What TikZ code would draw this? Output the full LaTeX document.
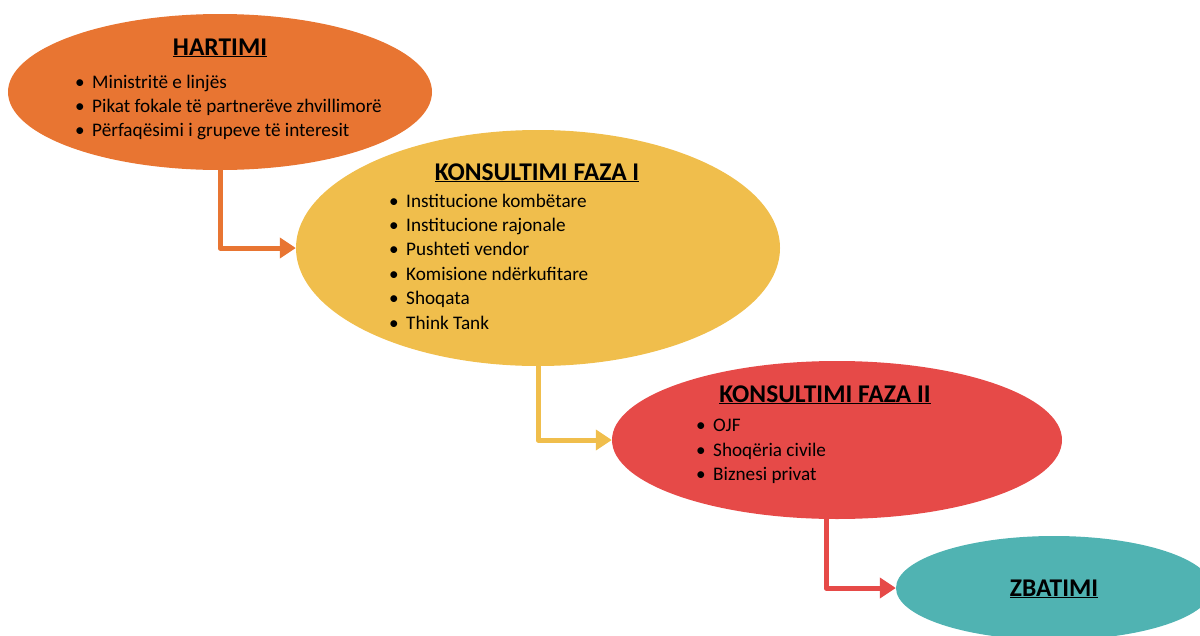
\documentclass[tikz,border=0pt]{standalone}
\usepackage{fontspec}
\setmainfont{Carlito}
\usetikzlibrary{shapes.geometric,arrows.meta}
\definecolor{cOr}{RGB}{232,117,50}
\definecolor{cYe}{RGB}{240,190,76}
\definecolor{cRe}{RGB}{230,74,72}
\definecolor{cTe}{RGB}{80,179,178}
\newcommand{\bul}[1]{\makebox[17pt][l]{\textbullet}#1}
\begin{document}
\begin{tikzpicture}[x=1pt,y=-1pt,
  blob/.style={ellipse,inner sep=0pt,draw=none},
  ttl/.style={anchor=base,inner sep=0pt,font=\fontsize{25.5}{30}\selectfont\bfseries},
  itm/.style={anchor=base west,inner sep=0pt,font=\fontsize{19.2}{23}\selectfont},
  conn/.style={line width=5pt,line join=round,-{Triangle[length=16pt,width=20pt]}}]
\useasboundingbox (0,0) rectangle (1200,635);
% ellipses
\node[blob,fill=cOr,minimum width=424pt,minimum height=156pt] (h) at (220,92) {};
\node[blob,fill=cYe,minimum width=484pt,minimum height=236pt] (k1) at (538,248) {};
\node[blob,fill=cRe,minimum width=450pt,minimum height=158pt] (k2) at (837,440) {};
\node[blob,fill=cTe,minimum width=316pt,minimum height=104pt] (z) at (1054,588) {};
% connectors
\draw[conn,cOr] (h.south) |- (k1.west);
\draw[conn,cYe] (k1.south) |- (k2.west);
\draw[conn,cRe] ([xshift=-11pt]k2.south) |- (z.west);
% HARTIMI
\node[ttl] (ht) at (220,55) {\underline{HARTIMI}};
\node[itm] (h1) at (75,88) {\bul{Ministritë e linjës}};
\node[itm] (h2) at (75,112) {\bul{Pikat fokale të partnerëve zhvillimorë}};
\node[itm] (h3) at (75,136) {\bul{Përfaqësimi i grupeve të interesit}};
% KONSULTIMI FAZA I
\node[ttl] (k1t) at (537,180) {\underline{KONSULTIMI FAZA I}};
\node[itm] (a1) at (389,207) {\bul{Institucione kombëtare}};
\node[itm] (a2) at (389,231.4) {\bul{Institucione rajonale}};
\node[itm] (a3) at (389,255.8) {\bul{Pushteti vendor}};
\node[itm] (a4) at (389,280.2) {\bul{Komisione ndërkufitare}};
\node[itm] (a5) at (389,304.6) {\bul{Shoqata}};
\node[itm] (a6) at (389,329) {\bul{Think Tank}};
% KONSULTIMI FAZA II
\node[ttl] (k2t) at (825,402) {\underline{KONSULTIMI FAZA II}};
\node[itm] (b1) at (696,431) {\bul{OJF}};
\node[itm] (b2) at (696,456) {\bul{Shoqëria civile}};
\node[itm] (b3) at (696,480) {\bul{Biznesi privat}};
% ZBATIMI
\node[ttl] (zt) at (1054,596) {\underline{ZBATIMI}};
\end{tikzpicture}
\end{document}
